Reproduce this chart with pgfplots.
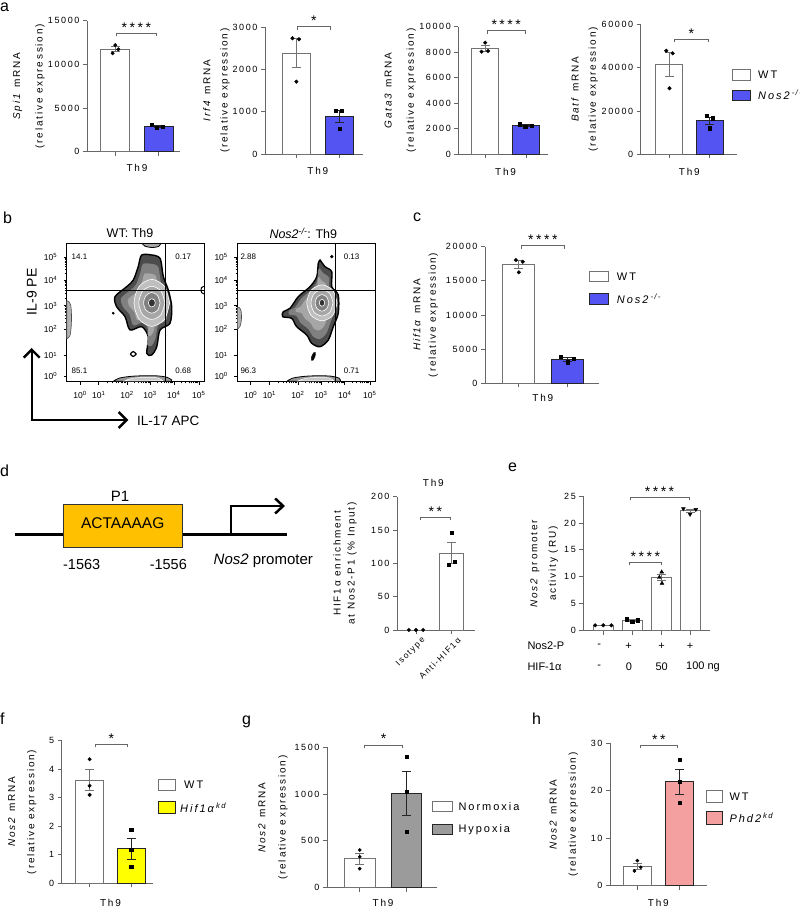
\documentclass[border=0pt]{standalone}
\usepackage{pgfplots}
\pgfplotsset{compat=1.18}
\usepackage{fontspec}
\setmainfont{Liberation Sans}
\newfontfamily\gpf[LetterSpace=18]{Liberation Sans}
\usetikzlibrary{arrows.meta}
\definecolor{gpblue}{RGB}{84,84,242}
\definecolor{gpyellow}{RGB}{255,255,0}
\definecolor{gpgrayfill}{RGB}{155,155,155}
\definecolor{gppink}{RGB}{245,160,160}
\definecolor{gporange}{RGB}{255,192,0}
\colorlet{gpaxis}{black!60}
\colorlet{gpwt}{black!55}
\newcommand\gptick{\gpf\fontsize{9}{10}\selectfont}
\newcommand\gplab{\gpf\fontsize{10}{12}\selectfont}
\newcommand\gpleg{\gpf\fontsize{11}{13}\selectfont}
\newcommand\gpstar{\gpf\fontsize{14}{14}\selectfont}
\newcommand\panfont{\fontsize{16}{16}\selectfont}
\pgfplotsset{
  gp/.style={
    scale only axis, clip=false, anchor=south west,
    axis x line*=bottom, axis y line*=left,
    axis line style={gpaxis, line width=0.8pt, -},
    every tick/.style={gpaxis, line width=0.8pt},
    tick align=outside, major tick length=4pt,
    xtick={0,1}, xticklabels={},
    ymin=0, scaled y ticks=false,
    yticklabel style={font=\gptick, text=black},
    /pgf/number format/1000 sep={},
    /pgf/number format/assume math mode=true,
  },
  wtbar/.style={ybar, bar width=0.67, bar shift=0pt, fill=white, draw=gpwt, line width=0.8pt,
    error bars/y dir=both, error bars/y explicit,
    error bars/error bar style={gpwt, line width=0.8pt},
    error bars/error mark options={gpwt, rotate=90, mark size=4.5pt, line width=0.8pt}},
  colbar/.style={ybar, bar width=0.67, bar shift=0pt, fill=#1, draw=black!85, line width=0.8pt,
    error bars/y dir=both, error bars/y explicit,
    error bars/error bar style={black!85, line width=0.8pt},
    error bars/error mark options={black!85, rotate=90, mark size=4.5pt, line width=0.8pt}},
  dots/.style={only marks, mark=*, mark size=1.8pt, black},
  sqs/.style={only marks, mark=square*, mark size=1.6pt, black},
  flow/.style={scale only axis, anchor=south west, height=138.3pt,
    xmin=0, xmax=100, ymin=0, ymax=100,
    axis line style={black, line width=0.6pt},
    every tick/.style={black, line width=0.5pt},
    tick align=outside, tick pos=left,
    major tick length=3pt, minor tick length=1.8pt,
    xtick={9.7,23.3,44,60.7,78,96.2},
    xticklabels={10\textsuperscript{0},10\textsuperscript{1},10\textsuperscript{2},10\textsuperscript{3},10\textsuperscript{4},10\textsuperscript{5}},
    ytick={4,19,38,55,73.5,90},
    yticklabels={10\textsuperscript{0},10\textsuperscript{1},10\textsuperscript{2},10\textsuperscript{3},10\textsuperscript{4},10\textsuperscript{5}},
    minor xtick={29.5,33.2,35.8,37.8,39.4,40.8,42,43,49,52,54,55.7,57,58.2,59.2,60,65.9,69,71.2,72.8,74.2,75.3,76.3,77.2,83.5,86.7,89,90.7,92.2,93.4,94.4,95.3},
    minor ytick={43.1,46.1,48.2,49.9,51.2,52.4,53.4,54.2,60.6,63.8,66.1,67.9,69.4,70.6,71.7,72.6,78.5,81.4,83.4,85,86.3,87.4,88.4,89.2},
    ticklabel style={font=\fontsize{8.5}{9}\selectfont},
    xticklabel style={yshift=-3pt},
    yticklabel style={xshift=-3pt},
  },
}
\begin{document}
\begin{tikzpicture}
\path[use as bounding box] (0pt,0pt) rectangle (800pt,908pt);

% ---------------- panel letters
\node[font=\panfont, anchor=base west, inner sep=0] at (0pt,896pt) {a};
\node[font=\panfont, anchor=base west, inner sep=0] at (3pt,684.7pt) {b};
\node[font=\panfont, anchor=base west, inner sep=0] at (413pt,686.3pt) {c};
\node[font=\panfont, anchor=base west, inner sep=0] at (0pt,431.3pt) {d};
\node[font=\panfont, anchor=base west, inner sep=0] at (508pt,436.3pt) {e};
\node[font=\panfont, anchor=base west, inner sep=0] at (0pt,183pt) {f};
\node[font=\panfont, anchor=base west, inner sep=0] at (242pt,183pt) {g};
\node[font=\panfont, anchor=base west, inner sep=0] at (532pt,183pt) {h};

% ---------------- a1 Spi1
\begin{axis}[gp, at={(87pt,756.3pt)}, width=93pt, height=131pt, xmin=-0.65, xmax=1.49, ymax=15000, ytick={0,5000,10000,15000}]
\addplot[wtbar] coordinates {(0,11730) +- (0,280)};
\addplot[dots] coordinates {(0,12200) (-0.06,11270) (0.07,11720)};
\addplot[colbar=gpblue] coordinates {(1,2900) +- (0,80)};
\addplot[sqs] coordinates {(0.84,3060) (0.95,2790) (1.1,2860)};
\draw[gpaxis, line width=0.7pt] ([yshift=-3pt]axis cs:0.03,13560) -- (axis cs:0.03,13560) -- (axis cs:0.94,13560) -- ([yshift=-3pt]axis cs:0.94,13560);
\node[font=\gpstar, anchor=base, inner sep=0] at ([yshift=1pt]axis cs:0.485,13560) {****};
\node[font=\gplab] at ([yshift=-16pt]axis cs:0.5,0) {Th9};
\end{axis}
\node[rotate=90, font=\gplab] at (17.5pt,821.8pt) {\textit{Spi1} mRNA};
\node[rotate=90, font=\gplab] at (40pt,821.8pt) {(relative expression)};

% ---------------- a2 Irf4
\begin{axis}[gp, at={(265pt,754pt)}, width=98pt, height=126.7pt, xmin=-0.73, xmax=1.55, ymax=3000, ytick={0,1000,2000,3000}]
\addplot[wtbar] coordinates {(0,2389) +- (0,339)};
\addplot[dots] coordinates {(-0.09,2740) (0.06,2716) (0,1712)};
\addplot[colbar=gpblue] coordinates {(1,886) +- (0,139)};
\addplot[sqs] coordinates {(0.92,1025) (1.05,1025) (1,608)};
\draw[gpaxis, line width=0.7pt] ([yshift=-3pt]axis cs:0.03,3014) -- (axis cs:0.03,3014) -- (axis cs:0.78,3014) -- ([yshift=-3pt]axis cs:0.78,3014);
\node[font=\gpstar, anchor=base, inner sep=0] at ([yshift=1pt]axis cs:0.405,3014) {*};
\node[font=\gplab] at ([yshift=-17pt]axis cs:0.5,0) {Th9};
\end{axis}
\node[rotate=90, font=\gplab] at (206.7pt,817.3pt) {\textit{Irf4} mRNA};
\node[rotate=90, font=\gplab] at (225pt,817.3pt) {(relative expression)};

% ---------------- a3 Gata3
\begin{axis}[gp, at={(458.3pt,753.7pt)}, width=89.7pt, height=127.6pt, xmin=-0.66, xmax=1.54, ymax=10000, ytick={0,2000,4000,6000,8000,10000}]
\addplot[wtbar] coordinates {(0,8294) +- (0,226)};
\addplot[dots] coordinates {(0,8746) (-0.09,8041) (0.07,8096)};
\addplot[colbar=gpblue] coordinates {(1,2252) +- (0,55)};
\addplot[sqs] coordinates {(0.84,2351) (0.98,2163) (1.14,2241)};
\draw[gpaxis, line width=0.7pt] ([yshift=-3pt]axis cs:0.05,9687) -- (axis cs:0.05,9687) -- (axis cs:0.98,9687) -- ([yshift=-3pt]axis cs:0.98,9687);
\node[font=\gpstar, anchor=base, inner sep=0] at ([yshift=1pt]axis cs:0.515,9687) {****};
\node[font=\gplab] at ([yshift=-18pt]axis cs:0.5,0) {Th9};
\end{axis}
\node[rotate=90, font=\gplab] at (388.3pt,817.5pt) {\textit{Gata3} mRNA};
\node[rotate=90, font=\gplab] at (411.2pt,817.5pt) {(relative expression)};

% ---------------- a4 Batf
\begin{axis}[gp, at={(640.7pt,753.7pt)}, width=96pt, height=130pt, xmin=-0.7, xmax=1.67, ymax=60000, ytick={0,20000,40000,60000}]
\addplot[wtbar] coordinates {(0,41631) +- (0,5595)};
\addplot[dots] coordinates {(-0.07,47815) (0.09,46615) (0.01,30462)};
\addplot[colbar=gpblue] coordinates {(1,15431) +- (0,1742)};
\addplot[sqs] coordinates {(0.93,17677) (1.08,16615) (1.01,12000)};
\draw[gpaxis, line width=0.7pt] ([yshift=-3pt]axis cs:0.13,53077) -- (axis cs:0.13,53077) -- (axis cs:0.97,53077) -- ([yshift=-3pt]axis cs:0.97,53077);
\node[font=\gpstar, anchor=base, inner sep=0] at ([yshift=1pt]axis cs:0.55,53077) {*};
\node[font=\gplab] at ([yshift=-18pt]axis cs:0.5,0) {Th9};
\end{axis}
\node[rotate=90, font=\gplab] at (575pt,818.7pt) {\textit{Batf} mRNA};
\node[rotate=90, font=\gplab] at (593.3pt,818.7pt) {(relative expression)};

% legend a
\draw[gpwt, line width=0.8pt, fill=white] (732.7pt,828pt) rectangle (750.7pt,838.7pt);
\node[font=\gpleg, anchor=west, inner sep=0] at (758pt,833.3pt) {WT};
\draw[black!85, line width=0.8pt, fill=gpblue] (732.7pt,808pt) rectangle (750.7pt,818pt);
\node[font=\gpleg, anchor=west, inner sep=0] at (758pt,813pt) {\textit{Nos2}\textsuperscript{\textit{-/-}}};

% ---------------- b flow WT
\begin{axis}[flow, at={(66.7pt,526.3pt)}, width=137.3pt]
\addplot[fill=black!40, draw=black, line width=0.8pt, smooth] coordinates {(34,0.3) (38,2.5) (46,3.8) (56,4.3) (66,4.2) (73,3.2) (76.5,1.2) (76,0.3)} -- cycle;
\addplot[fill=black!22, draw=white, line width=0.5pt, smooth] coordinates {(42,0.5) (48,2.5) (58,3.2) (66,2.8) (70,0.8)} -- cycle;
\addplot[fill=black!30, draw=black!70, line width=0.6pt, smooth] coordinates {(0,31) (2.3,33) (3.3,40) (3.5,48) (3,55) (1.5,58) (0,58.5)} -- cycle;
\addplot[fill=black!35, draw=black, line width=0.8pt, smooth] coordinates {(55,100) (57,98) (62,97) (67,97.8) (68.5,100)} -- cycle;
\addplot[draw=black, line width=1pt, smooth] coordinates {(100,63.5) (98.2,64.5) (97.8,66.3) (98.2,68) (100,69)};
\addplot[fill=white, draw=black, line width=1.2pt, smooth] coordinates {(50.6,20) (48.5,21.8) (46.4,20) (48.5,18.2) (50.6,20)} -- cycle;
\addplot[fill=black!70, draw=black, line width=1.4pt, smooth] coordinates {(61.9,91.6) (68,89.2) (70.4,75.9) (74,66.3) (76.5,54.2) (75.2,42.2) (68,37.4) (65.6,25.3) (61.9,19.3) (58.3,20.5) (59.4,32.5) (54.6,39.8) (46.1,37.4) (42.5,47) (36.4,54.2) (35.2,61.5) (43.7,68.7) (48.5,73.5) (52.1,83.2) (54.6,91.6) (61.9,91.6)} -- cycle;
\addplot[fill=black!50, draw=none, smooth] coordinates {(61.6,85.2) (66.6,83.2) (68.5,72.3) (71.5,64.4) (73.5,54.5) (72.5,44.7) (66.6,40.7) (64.6,30.8) (61.6,25.9) (58.6,26.9) (59.5,36.7) (55.6,42.7) (48.6,40.7) (45.7,48.6) (40.7,54.5) (39.7,60.5) (46.6,66.4) (50.6,70.4) (53.5,78.3) (55.6,85.2) (61.6,85.2)} -- cycle;
\addplot[fill=black!35, draw=none, smooth] coordinates {(61.2,78.1) (65,76.6) (66.4,68.3) (68.7,62.4) (70.2,54.9) (69.4,47.4) (65,44.5) (63.5,37) (61.2,33.3) (58.9,34) (59.6,41.4) (56.7,45.9) (51.4,44.5) (49.2,50.4) (45.4,54.9) (44.6,59.4) (49.9,63.9) (52.9,66.9) (55.1,72.9) (56.7,78.1) (61.2,78.1)} -- cycle;
\addplot[fill=black!25, draw=white, line width=0.6pt, smooth] coordinates {(75,57) (71.2,69) (62,74) (52.8,69) (49,57) (52.8,45) (62,40) (71.2,45) (75,57)} -- cycle;
\addplot[fill=black!35, draw=white, line width=0.6pt, smooth] coordinates {(71.5,57) (68.7,65.5) (62,69) (55.3,65.5) (52.5,57) (55.3,48.5) (62,45) (68.7,48.5) (71.5,57)} -- cycle;
\addplot[fill=black!50, draw=white, line width=0.6pt, smooth] coordinates {(68,57) (66.2,62.3) (62,64.5) (57.8,62.3) (56,57) (57.8,51.7) (62,49.5) (66.2,51.7) (68,57)} -- cycle;
\addplot[fill=black!80, draw=white, line width=0.6pt, smooth] coordinates {(64.5,57) (63.8,59.1) (62,60) (60.2,59.1) (59.5,57) (60.2,54.9) (62,54) (63.8,54.9) (64.5,57)} -- cycle;
\addplot[only marks, mark=*, mark size=1.2pt, black] coordinates {(33.9,49.5)};
\addplot[black, line width=0.6pt] coordinates {(72.1,0) (72.1,100)};
\addplot[black, line width=0.6pt] coordinates {(0,66.3) (100,66.3)};
\node[font=\fontsize{8}{9}\selectfont] at (axis cs:9.3,90) {14.1};
\node[font=\fontsize{8}{9}\selectfont] at (axis cs:84.9,90) {0.17};
\node[font=\fontsize{8}{9}\selectfont] at (axis cs:9.3,8) {85.1};
\node[font=\fontsize{8}{9}\selectfont] at (axis cs:84.9,8) {0.68};
\end{axis}

% ---------------- b flow Nos2
\begin{axis}[flow, at={(237.3pt,526.3pt)}, width=137.7pt]
\addplot[fill=black!40, draw=black, line width=0.8pt, smooth] coordinates {(36,0.3) (40,2.5) (48,3.8) (58,4.3) (68,4) (74,2.5) (75,0.3)} -- cycle;
\addplot[fill=black!22, draw=white, line width=0.5pt, smooth] coordinates {(44,0.5) (50,2.5) (59,3.2) (67,2.6) (70,0.8)} -- cycle;
\addplot[fill=black!30, draw=black!70, line width=0.6pt, smooth] coordinates {(0,38) (2,40) (3,45) (2.8,51) (1.5,53.5) (0,54)} -- cycle;
\addplot[fill=black, draw=black, smooth] coordinates {(56.8,21) (56.5,18.5) (55,15.5) (53.8,15.5) (53.9,18) (55.5,21)} -- cycle;
\addplot[only marks, mark=*, mark size=1.5pt, black] coordinates {(68.6,90.4)};
\addplot[fill=black!70, draw=black, line width=1.4pt, smooth] coordinates {(60.1,88) (63.7,83.2) (68.6,79.5) (68.6,68.7) (73.3,62.7) (73.3,49.5) (69.7,39.8) (66.1,30.2) (60.1,25.3) (54,27.8) (50.4,33.8) (43.1,39.8) (39.5,45.8) (33,47) (33.4,50.6) (38.3,53.1) (44.3,61.5) (52.8,68.7) (57.7,75.9) (58.8,85.6) (60.1,88)} -- cycle;
\addplot[fill=black!50, draw=none, smooth] coordinates {(59.7,82.2) (62.7,78.3) (66.7,75.3) (66.7,66.4) (70.5,61.5) (70.5,50.7) (67.6,42.7) (64.6,34.8) (59.7,30.8) (54.7,32.9) (51.8,37.8) (45.8,42.7) (42.8,47.6) (37.5,48.6) (37.8,51.6) (41.8,53.6) (46.8,60.5) (53.7,66.4) (57.8,72.3) (58.7,80.3) (59.7,82.2)} -- cycle;
\addplot[fill=black!35, draw=none, smooth] coordinates {(59.3,75.8) (61.5,72.9) (64.6,70.6) (64.6,63.9) (67.5,60.2) (67.5,52) (65.3,46) (63,40) (59.3,37) (55.5,38.5) (53.3,42.2) (48.8,46) (46.5,49.7) (42.5,50.4) (42.7,52.7) (45.8,54.2) (49.5,59.4) (54.8,63.9) (57.8,68.3) (58.5,74.4) (59.3,75.8)} -- cycle;
\addplot[fill=black!25, draw=white, line width=0.6pt, smooth] coordinates {(72.5,57) (69.3,66.2) (61.5,70) (53.7,66.2) (50.5,57) (53.7,47.8) (61.5,44) (69.3,47.8) (72.5,57)} -- cycle;
\addplot[fill=black!35, draw=white, line width=0.6pt, smooth] coordinates {(69.5,57) (67.2,63.7) (61.5,66.5) (55.8,63.7) (53.5,57) (55.8,50.3) (61.5,47.5) (67.2,50.3) (69.5,57)} -- cycle;
\addplot[fill=black!50, draw=white, line width=0.6pt, smooth] coordinates {(66.5,57) (65,61.2) (61.5,63) (58,61.2) (56.5,57) (58,52.8) (61.5,51) (65,52.8) (66.5,57)} -- cycle;
\addplot[fill=black!80, draw=white, line width=0.6pt, smooth] coordinates {(63.5,57) (62.9,58.8) (61.5,59.5) (60.1,58.8) (59.5,57) (60.1,55.2) (61.5,54.5) (62.9,55.2) (63.5,57)} -- cycle;
\addplot[black, line width=0.6pt] coordinates {(71,0) (71,100)};
\addplot[black, line width=0.6pt] coordinates {(0,66.3) (100,66.3)};
\node[font=\fontsize{8}{9}\selectfont] at (axis cs:8,90) {2.88};
\node[font=\fontsize{8}{9}\selectfont] at (axis cs:83,90) {0.13};
\node[font=\fontsize{8}{9}\selectfont] at (axis cs:8,8) {96.3};
\node[font=\fontsize{8}{9}\selectfont] at (axis cs:83,8) {0.71};
\end{axis}
\node[font=\fontsize{12.5}{14}\selectfont] at (130pt,674.7pt) {WT: Th9};
\node[font=\fontsize{12.5}{14}\selectfont] at (303.3pt,674.7pt) {\textit{Nos2}\textsuperscript{\textit{-/-}}: Th9};
\draw[line width=2.4pt, line join=miter, {Straight Barb[length=8pt,width=16pt]}-{Straight Barb[length=8pt,width=16pt]}] (31.7pt,560pt) -- (31.7pt,488pt) -- (128.3pt,488pt);
\node[rotate=90, font=\fontsize{14}{16}\selectfont] at (31.7pt,616.3pt) {IL-9 PE};
\node[anchor=west, inner sep=0, font=\fontsize{13.5}{16}\selectfont] at (137pt,487.3pt) {IL-17 APC};

% ---------------- c Hif1a
\begin{axis}[gp, at={(485pt,524.7pt)}, width=114.3pt, height=136.6pt, xmin=-0.68, xmax=1.65, ymax=20000, ytick={0,5000,10000,15000,20000}]
\addplot[wtbar, bar width=0.65] coordinates {(0,17370) +- (0,563)};
\addplot[dots] coordinates {(-0.05,18050) (0.09,17800) (0.01,16250)};
\addplot[colbar=gpblue, bar width=0.65] coordinates {(1,3509) +- (0,238)};
\addplot[sqs] coordinates {(0.87,3895) (1,3075) (1.12,3558)};
\draw[gpaxis, line width=0.7pt] ([yshift=-3pt]axis cs:0.07,20146) -- (axis cs:0.07,20146) -- (axis cs:0.93,20146) -- ([yshift=-3pt]axis cs:0.93,20146);
\node[font=\gpstar, anchor=base, inner sep=0] at ([yshift=1pt]axis cs:0.5,20146) {****};
\node[font=\gplab] at ([yshift=-15pt]axis cs:0.5,0) {Th9};
\end{axis}
\node[rotate=90, font=\gplab] at (416.7pt,593pt) {\textit{Hif1\,α} mRNA};
\node[rotate=90, font=\gplab] at (433.3pt,593pt) {(relative expression)};
\draw[gpwt, line width=0.8pt, fill=white] (589.3pt,626.3pt) rectangle (608.3pt,636.3pt);
\node[font=\gpleg, anchor=west, inner sep=0] at (616.7pt,631.3pt) {WT};
\draw[black!85, line width=0.8pt, fill=gpblue] (589.3pt,604pt) rectangle (608.3pt,614.7pt);
\node[font=\gpleg, anchor=west, inner sep=0] at (616.7pt,609.3pt) {\textit{Nos2}\textsuperscript{\textit{-/-}}};

% ---------------- d diagram
\draw[line width=2.5pt] (15pt,373.7pt) -- (63.3pt,373.7pt);
\draw[line width=2.5pt] (182.7pt,373.7pt) -- (286.7pt,373.7pt);
\draw[black!80, line width=0.8pt, fill=gporange] (63.3pt,360.3pt) rectangle (182.7pt,403.7pt);
\node[font=\fontsize{15.5}{17}\selectfont] at (122.7pt,384.7pt) {ACTAAAAG};
\node[font=\fontsize{15}{17}\selectfont] at (120pt,411.3pt) {P1};
\draw[line width=2.5pt, line join=miter, -{Straight Barb[length=8pt,width=15pt]}] (231pt,373.7pt) -- (231pt,402pt) -- (285pt,402pt);
\node[font=\fontsize{14.5}{17}\selectfont] at (81.7pt,343pt) {-1563};
\node[font=\fontsize{14.5}{17}\selectfont] at (168.3pt,343pt) {-1556};
\node[font=\fontsize{15}{17}\selectfont] at (263.3pt,347.3pt) {\textit{Nos2} promoter};

% ---------------- d chart
\begin{axis}[gp, at={(397pt,278pt)}, width=78pt, height=133.3pt, xmin=-0.535, xmax=1.66, ymax=200, ytick={0,50,100,150,200},
  xticklabels={Isotype,Anti-HIF1α}, xticklabel style={font=\gpf\fontsize{8.5}{9}\selectfont, rotate=45, anchor=east, inner sep=1pt, yshift=-9pt, xshift=3pt}]
\addplot[wtbar, bar width=0.68] coordinates {(0,0) +- (0,0)};
\addplot[dots] coordinates {(-0.2,0) (0,0) (0.2,0)};
\addplot[wtbar, bar width=0.68] coordinates {(1,115.3) +- (0,15.4)};
\addplot[sqs] coordinates {(1,146) (0.91,97.5) (1.08,102.5)};
\draw[gpaxis, line width=0.7pt] ([yshift=-3pt]axis cs:0.13,169) -- (axis cs:0.13,169) -- (axis cs:0.96,169) -- ([yshift=-3pt]axis cs:0.96,169);
\node[font=\gpstar, anchor=base, inner sep=0] at ([yshift=1pt]axis cs:0.545,169) {**};
\end{axis}
\node[font=\gplab] at (433.3pt,424.7pt) {Th9};
\node[rotate=90, font=\gplab] at (337pt,344.7pt) {HIF1α enrichment};
\node[rotate=90, font=\gplab] at (352pt,344.7pt) {at Nos2-P1 (\% Input)};

% ---------------- e chart
\begin{axis}[gp, at={(583.3pt,277.3pt)}, width=126.7pt, height=134.7pt, xmin=-0.69, xmax=3.69, ymax=25, ytick={0,5,10,15,20,25}, xtick={0,1,2,3}]
\addplot[wtbar, bar width=0.69] coordinates {(0,1.0) +- (0,0.02)};
\addplot[dots] coordinates {(-0.28,1) (0,1) (0.28,1)};
\addplot[wtbar, bar width=0.69] coordinates {(1,1.9) +- (0,0.13)};
\addplot[sqs] coordinates {(0.8,2.12) (1,1.67) (1.19,1.93)};
\addplot[wtbar, bar width=0.69] coordinates {(2,9.87) +- (0,0.6)};
\addplot[only marks, mark=triangle*, mark size=2.2pt, black] coordinates {(2.02,10.9) (1.94,9.9) (2.03,8.8)};
\addplot[wtbar, bar width=0.69] coordinates {(3,22.25) +- (0,0.33)};
\addplot[only marks, mark=triangle*, mark size=2.2pt, black, mark options={rotate=180}] coordinates {(2.77,22.64) (3,21.6) (3.2,22.5)};
\draw[gpaxis, line width=0.7pt] ([yshift=-3pt]axis cs:0.92,24.76) -- (axis cs:0.92,24.76) -- (axis cs:2.97,24.76) -- ([yshift=-3pt]axis cs:2.97,24.76);
\node[font=\gpstar, anchor=base, inner sep=0] at ([yshift=1pt]axis cs:1.945,24.76) {****};
\draw[gpaxis, line width=0.7pt] ([yshift=-3pt]axis cs:0.9,12.7) -- (axis cs:0.9,12.7) -- (axis cs:2.01,12.7) -- ([yshift=-3pt]axis cs:2.01,12.7);
\node[font=\gpstar, anchor=base, inner sep=0] at ([yshift=1pt]axis cs:1.455,12.7) {****};
\end{axis}
\node[rotate=90, font=\gplab] at (535pt,344.3pt) {\textit{Nos2} promoter};
\node[rotate=90, font=\gplab] at (553.3pt,344.3pt) {activity (RU)};
\node[anchor=west, inner sep=0, font=\fontsize{11}{12}\selectfont] at (527.3pt,262pt) {Nos2-P};
\node[anchor=west, inner sep=0, font=\fontsize{11}{12}\selectfont] at (527.3pt,241.3pt) {HIF-1α};
\node[font=\fontsize{11}{12}\selectfont] at (599.3pt,262pt) {-};
\node[font=\fontsize{11}{12}\selectfont] at (628.7pt,262pt) {+};
\node[font=\fontsize{11}{12}\selectfont] at (661.7pt,262pt) {+};
\node[font=\fontsize{11}{12}\selectfont] at (690pt,262pt) {+};
\node[font=\fontsize{11}{12}\selectfont] at (599.3pt,241.3pt) {-};
\node[font=\fontsize{11}{12}\selectfont] at (629pt,241.3pt) {0};
\node[font=\fontsize{11}{12}\selectfont] at (661.7pt,241.3pt) {50};
\node[font=\fontsize{11}{12}\selectfont] at (703pt,241.3pt) {100 ng};

% ---------------- f
\begin{axis}[gp, at={(61.7pt,24.7pt)}, width=91.6pt, height=142.6pt, xmin=-0.67, xmax=1.53, ymax=5, ytick={0,1,2,3,4,5}]
\addplot[wtbar, bar width=0.66] coordinates {(0,3.62) +- (0,0.375)};
\addplot[dots] coordinates {(0,4.35) (0,3.42) (0,3.1)};
\addplot[colbar=gpyellow, bar width=0.66] coordinates {(1,1.21) +- (0,0.373)};
\addplot[sqs] coordinates {(1,1.87) (1,1.19) (1,0.58)};
\draw[gpaxis, line width=0.7pt] ([yshift=-3pt]axis cs:0.14,4.87) -- (axis cs:0.14,4.87) -- (axis cs:0.9,4.87) -- ([yshift=-3pt]axis cs:0.9,4.87);
\node[font=\gpstar, anchor=base, inner sep=0] at ([yshift=1pt]axis cs:0.52,4.87) {*};
\node[font=\gplab] at ([yshift=-20pt]axis cs:0.5,0) {Th9};
\end{axis}
\node[rotate=90, font=\gplab] at (11.7pt,96pt) {\textit{Nos2} mRNA};
\node[rotate=90, font=\gplab] at (31.7pt,96pt) {(relative expression)};
\draw[gpwt, line width=0.8pt, fill=white] (158.3pt,117.3pt) rectangle (175.7pt,128.7pt);
\node[font=\gpleg, anchor=west, inner sep=0] at (184pt,123pt) {WT};
\draw[black!85, line width=0.8pt, fill=gpyellow] (158.3pt,94.7pt) rectangle (175.7pt,106.3pt);
\node[font=\gpleg, anchor=west, inner sep=0] at (180pt,100.5pt) {\textit{Hif1\,α}\textsuperscript{\textit{kd}}};

% ---------------- g
\begin{axis}[gp, at={(327pt,20.3pt)}, width=109.7pt, height=140.4pt, xmin=-0.7, xmax=1.65, ymax=1500, ytick={0,500,1000,1500}]
\addplot[wtbar, bar width=0.66] coordinates {(0,312) +- (0,58.5)};
\addplot[dots, mark size=1.6pt] coordinates {(0,403) (0,331) (0,203)};
\addplot[colbar=gpgrayfill, bar width=0.66] coordinates {(1,1006) +- (0,232.5)};
\addplot[sqs, mark size=1.5pt] coordinates {(1,1400) (1,1022) (1,595)};
\draw[gpaxis, line width=0.7pt] ([yshift=-3pt]axis cs:0.1,1525) -- (axis cs:0.1,1525) -- (axis cs:0.92,1525) -- ([yshift=-3pt]axis cs:0.92,1525);
\node[font=\gpstar, anchor=base, inner sep=0] at ([yshift=1pt]axis cs:0.51,1525) {*};
\node[font=\gplab] at ([yshift=-15pt]axis cs:0.5,0) {Th9};
\end{axis}
\node[rotate=90, font=\gplab] at (262pt,90.5pt) {\textit{Nos2} mRNA};
\node[rotate=90, font=\gplab] at (283pt,90.5pt) {(relative expression)};
\draw[gpwt, line width=0.8pt, fill=white] (432.3pt,96.3pt) rectangle (452.3pt,107pt);
\node[font=\gpleg, anchor=west, inner sep=0] at (458.3pt,101.7pt) {Normoxia};
\draw[black!85, line width=0.8pt, fill=gpgrayfill] (432.3pt,73.7pt) rectangle (452.3pt,83.7pt);
\node[font=\gpleg, anchor=west, inner sep=0] at (458.3pt,78.7pt) {Hypoxia};

% ---------------- h
\begin{axis}[gp, at={(610pt,22.3pt)}, width=96.7pt, height=142.4pt, xmin=-0.65, xmax=1.65, ymax=30, ytick={0,10,20,30}]
\addplot[wtbar] coordinates {(0,4.08) +- (0,0.635)};
\addplot[dots, mark size=1.6pt] coordinates {(0,5.27) (-0.07,3.1) (0.08,3.88)};
\addplot[colbar=gppink] coordinates {(1,21.93) +- (0,2.62)};
\addplot[sqs, mark size=1.5pt] coordinates {(1,26.48) (1,21.9) (1,17.42)};
\draw[gpaxis, line width=0.7pt] ([yshift=-3pt]axis cs:0.06,29.64) -- (axis cs:0.06,29.64) -- (axis cs:0.96,29.64) -- ([yshift=-3pt]axis cs:0.96,29.64);
\node[font=\gpstar, anchor=base, inner sep=0] at ([yshift=1pt]axis cs:0.51,29.64) {**};
\node[font=\gplab] at ([yshift=-17pt]axis cs:0.5,0) {Th9};
\end{axis}
\node[rotate=90, font=\gplab] at (553.3pt,93.5pt) {\textit{Nos2} mRNA};
\node[rotate=90, font=\gplab] at (573.3pt,93.5pt) {(relative expression)};
\draw[gpwt, line width=0.8pt, fill=white] (706.7pt,105.3pt) rectangle (722.7pt,118pt);
\node[font=\gpleg, anchor=west, inner sep=0] at (729.3pt,111.7pt) {WT};
\draw[black!85, line width=0.8pt, fill=gppink] (706.7pt,84pt) rectangle (722.7pt,96.3pt);
\node[font=\gpleg, anchor=west, inner sep=0] at (729.3pt,90.2pt) {\textit{Phd2}\textsuperscript{\textit{kd}}};
\end{tikzpicture}
\end{document}
